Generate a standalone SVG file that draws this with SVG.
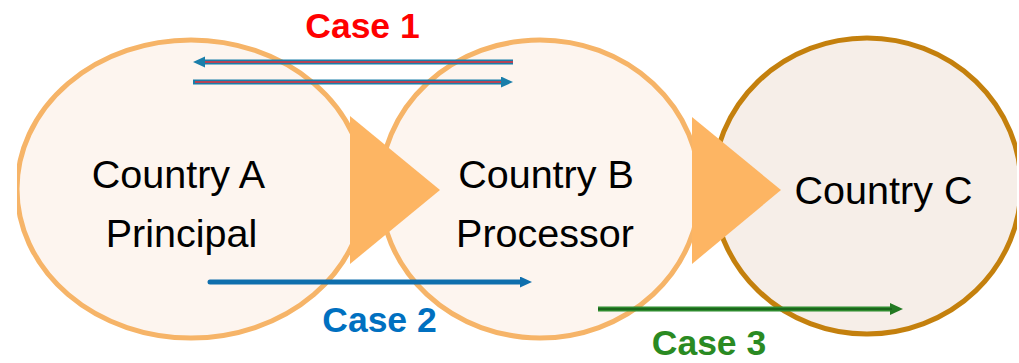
<svg xmlns="http://www.w3.org/2000/svg" width="1019" height="363" viewBox="0 0 1019 363">
  <style>
    .ring-light { fill: #FDF5EF; stroke: #F6B467; stroke-width: 5; }
    .ring-dark { fill: #F6EEE8; stroke: #C4800F; stroke-width: 5; }
    .chevron { fill: #FDB563; }
    .country { font-family: "Liberation Sans", Arial, sans-serif; font-size: 39.5px; fill: #000; text-anchor: middle; }
    .case { font-family: "Liberation Sans", Arial, sans-serif; font-size: 35.5px; font-weight: bold; text-anchor: middle; }
  </style>
  <defs>
    <clipPath id="clipA"><rect x="17" y="0" width="1002" height="363"/></clipPath>
    <clipPath id="clipC"><rect x="0" y="0" width="1017" height="363"/></clipPath>
    <filter id="soft" x="-5%" y="-5%" width="110%" height="110%"><feGaussianBlur stdDeviation="0.7"/></filter>
    <marker id="headBlue1" markerUnits="userSpaceOnUse" markerWidth="14" markerHeight="12" refX="2" refY="5.5" orient="auto">
      <path d="M0,0 L12,5.5 L0,11 z" fill="#1A7EAA"/>
    </marker>
    <marker id="headBlue2" markerUnits="userSpaceOnUse" markerWidth="14" markerHeight="12" refX="2" refY="5.5" orient="auto">
      <path d="M0,0 L12,5.5 L0,11 z" fill="#0F6FAD"/>
    </marker>
    <marker id="headGreen" markerUnits="userSpaceOnUse" markerWidth="15" markerHeight="13" refX="2" refY="6" orient="auto">
      <path d="M0,0 L13,6 L0,12 z" fill="#237A23"/>
    </marker>
  </defs>

  <g id="countryA" clip-path="url(#clipA)">
    <ellipse class="ring-light" cx="191" cy="189" rx="174" ry="149" filter="url(#soft)"/>
    <text class="country" x="178.5" y="188">Country A</text>
    <text class="country" x="181.5" y="247">Principal</text>
  </g>

  <g id="countryB">
    <ellipse class="ring-light" cx="540" cy="189" rx="160" ry="149" filter="url(#soft)"/>
  </g>

  <g id="countryC" clip-path="url(#clipC)">
    <ellipse class="ring-dark" cx="867" cy="186" rx="154" ry="148" filter="url(#soft)"/>
    <text class="country" x="883.5" y="204">Country C</text>
  </g>

  <g id="flow">
    <polygon class="chevron" points="350,116 440,190 350,264"/>
    <polygon class="chevron" points="692,117 781,190 692,264"/>
  </g>

  <g id="countryB-labels">
    <text class="country" x="546" y="188">Country B</text>
    <text class="country" x="545" y="247">Processor</text>
  </g>

  <g id="connectors">
    <g id="case1-return">
      <path d="M513,62 L203,62" stroke="#1A7EAA" stroke-width="5" fill="none" marker-end="url(#headBlue1)"/>
      <path d="M513,62 L205,62" stroke="#E8303A" stroke-width="1.5" fill="none"/>
    </g>
    <g id="case1-send">
      <path d="M193,82 L503,82" stroke="#1A7EAA" stroke-width="5" fill="none" marker-end="url(#headBlue1)"/>
      <path d="M195,82 L501,82" stroke="#E8303A" stroke-width="1.5" fill="none"/>
    </g>
    <path id="case2" d="M210,282 L522,282" stroke="#0F6FAD" stroke-width="5" stroke-linecap="round" fill="none" marker-end="url(#headBlue2)"/>
    <g id="case3">
      <path d="M598,309 L892,309" stroke="#2E8B2E" stroke-width="5" fill="none" marker-end="url(#headGreen)"/>
      <path d="M598,309 L892,309" stroke="#1B661B" stroke-width="2" fill="none"/>
    </g>
  </g>

  <g id="labels">
    <text class="case" x="362.5" y="38" fill="#FF0000">Case 1</text>
    <text class="case" x="379.5" y="332" fill="#0070C0">Case 2</text>
    <text class="case" x="709" y="355" fill="#2A8A22">Case 3</text>
  </g>
</svg>
